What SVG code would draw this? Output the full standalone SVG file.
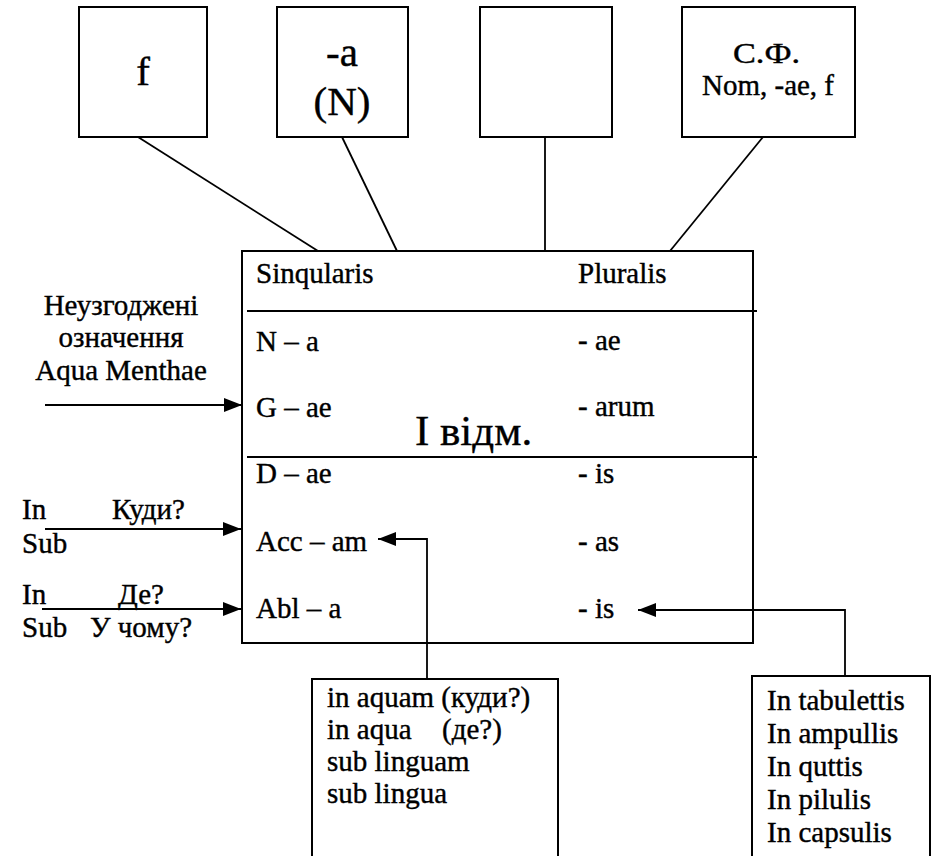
<svg xmlns="http://www.w3.org/2000/svg" width="931" height="856" viewBox="0 0 931 856" font-family="Liberation Serif, DejaVu Serif, serif">
  <defs>
    <marker id="arrow" markerUnits="userSpaceOnUse" markerWidth="18" markerHeight="14" refX="18" refY="7" orient="auto">
      <path d="M0,0 L18,7 L0,14 Z" fill="#000"/>
    </marker>
    <style>
      .box { fill: none; stroke: #000; stroke-width: 2; }
      .ln { fill: none; stroke: #000; stroke-width: 1.8; }
      .arr { fill: none; stroke: #000; stroke-width: 1.8; marker-end: url(#arrow); }
      text { font-family: Liberation Serif, DejaVu Serif, serif; fill: #000; stroke: #000; stroke-width: 0.4; font-size: 29px; }
      .mid { text-anchor: middle; }
      .big { font-size: 41px; }
      .huge { font-size: 43px; }
    </style>
  </defs>
  <rect width="931" height="856" fill="#fff"/>

  <!-- top row: gender, ending, empty cell, dictionary form -->
  <g id="gender">
    <rect class="box" x="79" y="7" width="128" height="130"/>
    <text class="mid big" x="143" y="85">f</text>
  </g>
  <g id="ending">
    <rect class="box" x="277" y="7" width="131" height="130"/>
    <text class="mid big" x="342" y="66">-a</text>
    <text class="mid big" x="342" y="115">(N)</text>
  </g>
  <g id="empty">
    <rect class="box" x="480" y="7" width="132" height="130"/>
  </g>
  <g id="dict-form">
    <rect class="box" x="682" y="7" width="173" height="130"/>
    <text x="733" y="63" textLength="67" lengthAdjust="spacingAndGlyphs">С.Ф.</text>
    <text class="mid" x="768" y="95">Nom, -ae, f</text>
  </g>

  <!-- declension table -->
  <g id="table">
    <rect class="box" x="242" y="251" width="511" height="392"/>
    <line class="ln" x1="247" y1="311" x2="757" y2="311"/>
    <line class="ln" x1="247" y1="457" x2="757" y2="457"/>
    <text x="256" y="283">Sinqularis</text>
    <text x="578" y="283">Pluralis</text>
    <text x="256" y="351">N – a</text>
    <text x="578" y="350">- ae</text>
    <text x="256" y="417">G – ae</text>
    <text x="578" y="416">- arum</text>
    <text class="huge" x="415" y="445">І відм.</text>
    <text x="256" y="483">D – ae</text>
    <text x="578" y="483">- is</text>
    <text x="256" y="551">Acc – am</text>
    <text x="578" y="551">- as</text>
    <text x="256" y="618">Abl – a</text>
    <text x="578" y="618">- is</text>
  </g>

  <!-- side labels -->
  <g id="genitive-note">
    <text class="mid" x="121" y="315">Неузгоджені</text>
    <text class="mid" x="121" y="347">означення</text>
    <text class="mid" x="121" y="380">Aqua Menthae</text>
  </g>
  <g id="acc-note">
    <text x="22" y="519">In</text>
    <text x="112" y="519">Куди?</text>
    <text x="22" y="553">Sub</text>
  </g>
  <g id="abl-note">
    <text x="22" y="604">In</text>
    <text x="118" y="604">Де?</text>
    <text x="22" y="637">Sub</text>
    <text x="90" y="637">У чому?</text>
  </g>

  <!-- example boxes -->
  <g id="sing-examples">
    <rect class="box" x="312" y="679" width="246" height="200"/>
    <text x="327" y="707">in aquam (куди?)</text>
    <text x="327" y="739">in aqua</text>
    <text x="442" y="739">(де?)</text>
    <text x="327" y="771">sub linguam</text>
    <text x="327" y="803">sub lingua</text>
  </g>
  <g id="plur-examples">
    <rect class="box" x="752" y="676" width="178" height="200"/>
    <text x="767" y="710">In tabulettis</text>
    <text x="767" y="743">In ampullis</text>
    <text x="767" y="776">In quttis</text>
    <text x="767" y="809">In pilulis</text>
    <text x="767" y="842">In capsulis</text>
  </g>

  <!-- connectors -->
  <g id="connectors">
    <line class="ln" x1="138" y1="137" x2="318" y2="251"/>
    <line class="ln" x1="342" y1="137" x2="397" y2="251"/>
    <line class="ln" x1="545" y1="137" x2="545" y2="251"/>
    <line class="ln" x1="763" y1="137" x2="670" y2="251"/>
    <line class="arr" x1="45" y1="405" x2="242" y2="405"/>
    <line class="arr" x1="45" y1="529" x2="241" y2="529"/>
    <line class="arr" x1="42" y1="609" x2="241" y2="609"/>
    <polyline class="arr" points="427,679 427,539 378,539"/>
    <polyline class="arr" points="845,676 845,610 638,610"/>
  </g>
</svg>
